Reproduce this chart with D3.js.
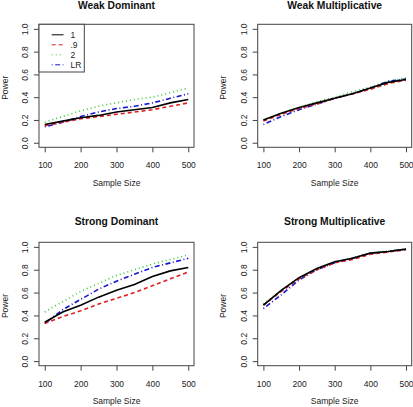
<!DOCTYPE html>
<html><head><meta charset="utf-8">
<script src="https://cdn.jsdelivr.net/npm/d3@7"></script>
<style>
body{margin:0;background:#fff;}
svg{display:block;font-family:"Liberation Sans",Arial,Helvetica,sans-serif;}
</style></head>
<body><svg id="c" width="413" height="407"></svg>
<script>
const sampleSizes = [100,150,200,250,300,350,400,450,500];
const seriesNames = ["1", ".9", "2", "LR"];
const panelTitles = ["Weak Dominant","Weak Multiplicative","Strong Dominant","Strong Multiplicative"];
const xTicks = [100,200,300,400,500];
const yTicks = [0,0.2,0.4,0.6,0.8,1.0];

const weakDom1  = [0.16,0.19,0.22,0.24,0.27,0.29,0.31,0.35,0.38];
const weakDom09 = [0.15,0.18,0.21,0.23,0.25,0.27,0.29,0.32,0.35];
const weakDom2  = [0.18,0.23,0.28,0.32,0.35,0.38,0.40,0.44,0.48];
const weakDomLR = [0.14,0.18,0.23,0.27,0.30,0.32,0.35,0.39,0.43];

const weakMul1  = [0.20,0.26,0.31,0.35,0.39,0.43,0.48,0.53,0.555];
const weakMul09 = [0.19,0.25,0.30,0.34,0.39,0.43,0.47,0.52,0.55];
const weakMul2  = [0.20,0.26,0.31,0.36,0.40,0.45,0.49,0.54,0.57];
const weakMulLR = [0.16,0.23,0.29,0.34,0.39,0.43,0.48,0.54,0.56];

const strDom1  = [0.34,0.43,0.49,0.56,0.62,0.67,0.74,0.79,0.82];
const strDom09 = [0.33,0.39,0.44,0.50,0.55,0.60,0.66,0.72,0.78];
const strDom2  = [0.43,0.52,0.61,0.68,0.75,0.80,0.85,0.89,0.93];
const strDomLR = [0.33,0.45,0.54,0.63,0.70,0.76,0.82,0.86,0.90];

const strMul1  = [0.49,0.62,0.73,0.81,0.87,0.90,0.945,0.96,0.98];
const strMul09 = [0.49,0.61,0.72,0.80,0.86,0.89,0.935,0.955,0.975];
const strMul2  = [0.50,0.62,0.73,0.81,0.87,0.90,0.945,0.965,0.98];
const strMulLR = [0.46,0.58,0.71,0.80,0.86,0.90,0.945,0.96,0.98];

const panelData = [
  [weakDom1, weakDom09, weakDom2, weakDomLR],
  [weakMul1, weakMul09, weakMul2, weakMulLR],
  [strDom1, strDom09, strDom2, strDomLR],
  [strMul1, strMul09, strMul2, strMulLR]
];

const styles = [
  {color:"#000000", dash:null},
  {color:"#e02020", dash:"4,3"},
  {color:"#33cc33", dash:"1,3"},
  {color:"#1515d0", dash:"1,2.5,5,2.5"}
];

const boxes = [
  {l:39, r:194, t:24.3, b:147.3},
  {l:257.7, r:411.7, t:24.3, b:147.3},
  {l:39, r:194, t:242.3, b:365.7},
  {l:257.7, r:411.7, t:242.3, b:365.7}
];

const svg = d3.select("#c");
const textCol = "#222";
const boxCol = "#444";

boxes.forEach((bx, pi) => {
  const x = d3.scaleLinear().domain([84,516]).range([bx.l, bx.r]);
  const y = d3.scaleLinear().domain([-0.04,1.04]).range([bx.b, bx.t]);
  const g = svg.append("g");

  const line = d3.line().x((d,i)=>x(sampleSizes[i])).y(d=>y(d));
  [2,3,1,0].forEach(si => {
    g.append("path").datum(panelData[pi][si])
      .attr("d", line).attr("fill","none")
      .attr("stroke", styles[si].color).attr("stroke-width", 1.6)
      .attr("stroke-dasharray", styles[si].dash);
  });

  g.append("rect").attr("x", bx.l).attr("y", bx.t)
    .attr("width", bx.r-bx.l).attr("height", bx.b-bx.t)
    .attr("fill","none").attr("stroke", boxCol).attr("stroke-width",1);

  const xa = g.append("g").attr("transform",`translate(0,${bx.b})`)
    .call(d3.axisBottom(x).tickValues(xTicks).tickSize(5).tickSizeOuter(0).tickPadding(10).tickFormat(d3.format("d")));
  xa.select(".domain").remove();
  xa.selectAll("line").attr("stroke", boxCol);
  xa.selectAll("text").attr("font-size", 8.5).attr("fill", textCol).attr("font-family", null);

  const ya = g.append("g").attr("transform",`translate(${bx.l},0)`)
    .call(d3.axisLeft(y).tickValues(yTicks).tickSize(5).tickSizeOuter(0).tickFormat(d3.format(".1f")));
  ya.select(".domain").remove();
  ya.selectAll("line").attr("stroke", boxCol);
  ya.selectAll("text").remove();
  ya.selectAll(".tick").append("text")
    .attr("transform","translate(-11,0) rotate(-90)")
    .attr("text-anchor","middle").attr("font-size",8.5).attr("fill",textCol)
    .attr("stroke","none")
    .text(d=>d3.format(".1f")(d));

  svg.append("text").attr("x", (bx.l+bx.r)/2).attr("y", Math.max(bx.t-17.2, 9))
    .attr("text-anchor","middle").attr("font-size",10.3).attr("font-weight","bold")
    .attr("fill","#111").text(panelTitles[pi]);
  svg.append("text").attr("x", (bx.l+bx.r)/2).attr("y", bx.b+38.5)
    .attr("text-anchor","middle").attr("font-size",8.5).attr("fill",textCol).text("Sample Size");
  svg.append("text").attr("transform",`translate(${bx.l-31.5},${(bx.t+bx.b)/2+2}) rotate(-90)`)
    .attr("text-anchor","middle").attr("font-size",8.5).attr("fill",textCol).text("Power");
});

const lg = svg.append("g");
const b0 = boxes[0];
lg.append("rect").attr("x", b0.l).attr("y", b0.t).attr("width", 45.3).attr("height", 47.7)
  .attr("fill","#fff").attr("stroke", boxCol).attr("stroke-width",1);
seriesNames.forEach((nm, i) => {
  const cy = 34.8 + i*10;
  lg.append("line").attr("x1", 51.7).attr("x2", 63.5).attr("y1", cy).attr("y2", cy)
    .attr("stroke", styles[i].color).attr("stroke-width", 1)
    .attr("stroke-dasharray", styles[i].dash);
  lg.append("text").attr("x", 70.5).attr("y", cy+3).attr("font-size", 8.5)
    .attr("fill", textCol).text(nm);
});
</script></body></html>
